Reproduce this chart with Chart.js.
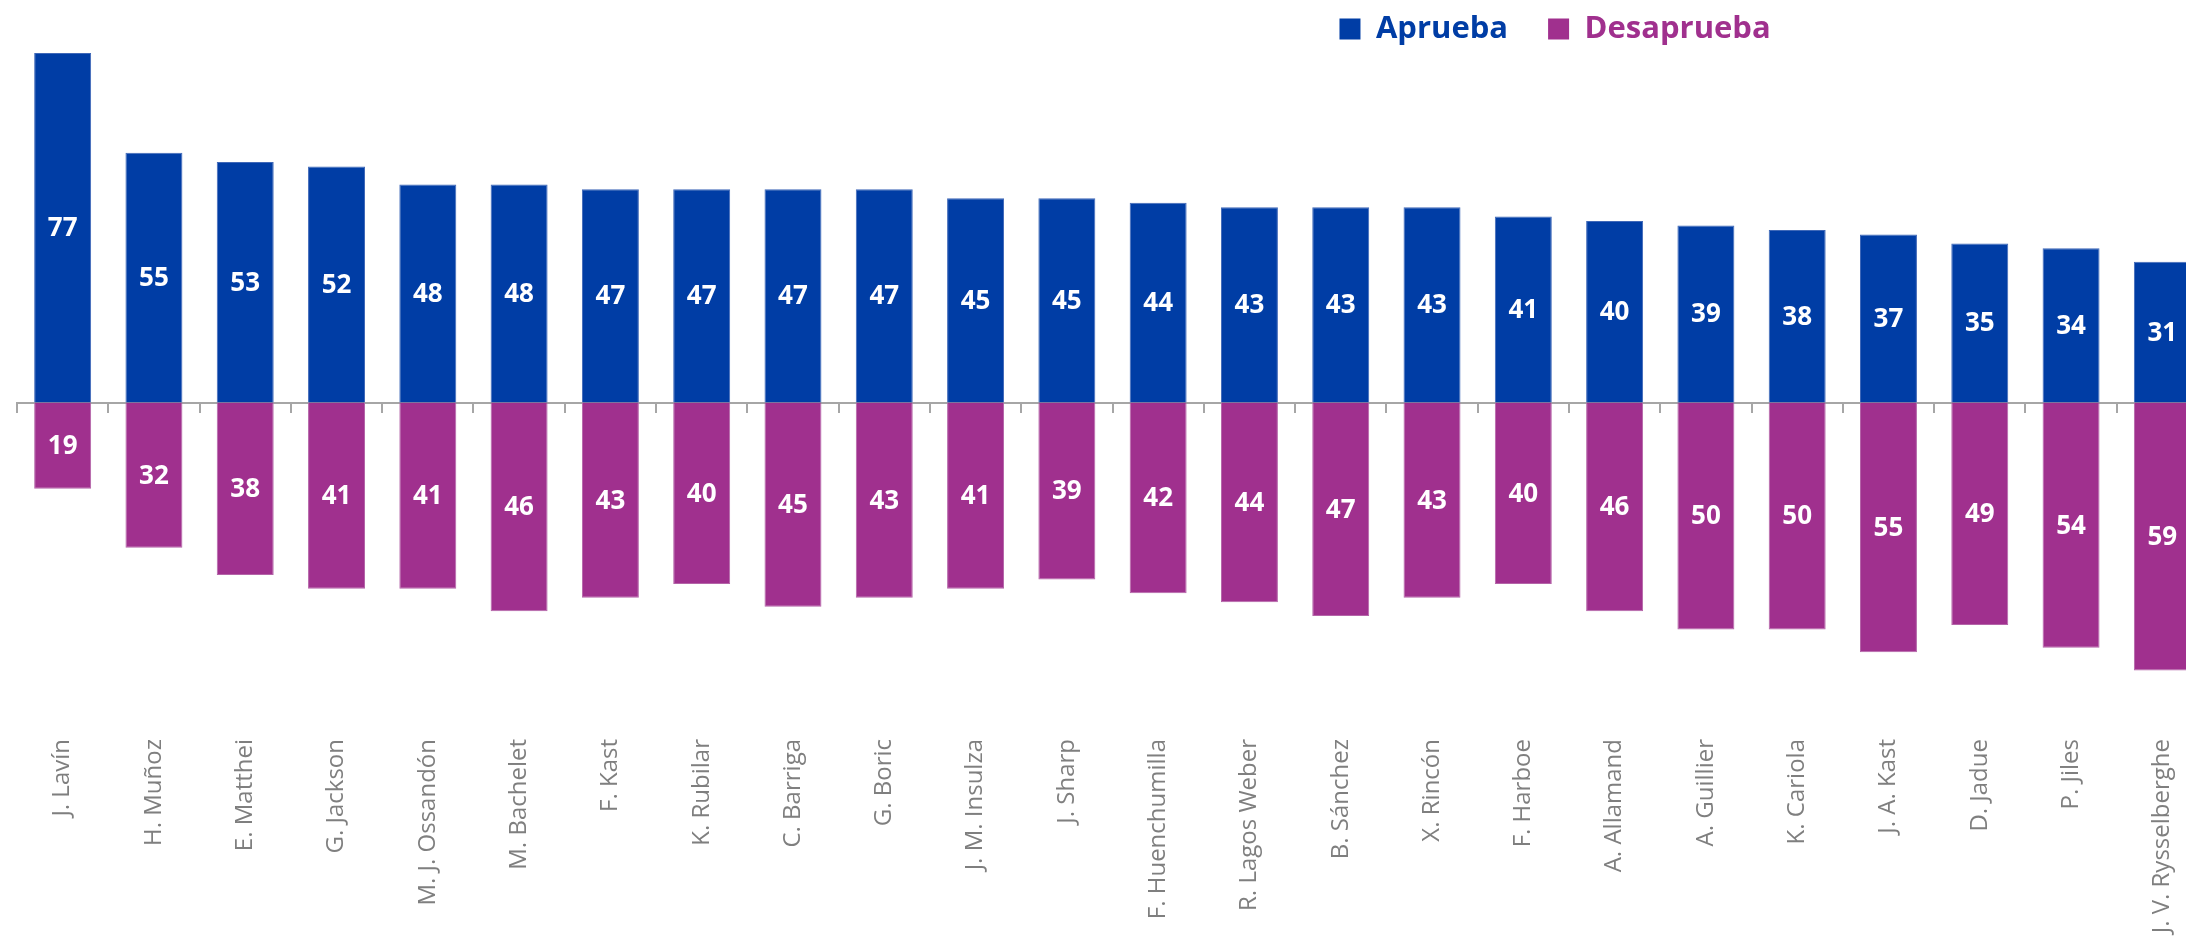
<!DOCTYPE html>
<html><head><meta charset="utf-8">
<script src="https://cdn.jsdelivr.net/npm/chart.js@4/dist/chart.umd.min.js"></script>
<style>
html,body{margin:0;padding:0;background:#fff;overflow:hidden;width:2186px;height:942px}
#wrap{width:2208px;height:942px;position:relative}
</style></head>
<body><div id="wrap"><canvas id="c" width="2208" height="942"></canvas></div>
<script>
const categories = ['J. Lavín','H. Muñoz','E. Matthei','G. Jackson','M. J. Ossandón','M. Bachelet','F. Kast','K. Rubilar','C. Barriga','G. Boric','J. M. Insulza','J. Sharp','F. Huenchumilla','R. Lagos Weber','B. Sánchez','X. Rincón','F. Harboe','A. Allamand','A. Guillier','K. Cariola','J. A. Kast','D. Jadue','P. Jiles','J. V. Rysselberghe'];
const aprueba = [77,55,53,52,48,48,47,47,47,47,45,45,44,43,43,43,41,40,39,38,37,35,34,31];
const desaprueba = [19,32,38,41,41,46,43,40,45,43,41,39,42,44,47,43,40,46,50,50,55,49,54,59];
const seriesNames = ['Aprueba','Desaprueba'];
const seriesColors = ['#003DA5','#A0308E'];
const seriesEdges = ['#3f68b8','#b464a8'];

Chart.defaults.font.family = "'Open Sans', sans-serif";

const valueLabels = {
  id: 'valueLabels',
  afterDatasetsDraw(chart) {
    const ctx = chart.ctx;
    ctx.save();
    ctx.font = "bold 26px 'Open Sans', sans-serif";
    ctx.fillStyle = '#ffffff';
    ctx.textAlign = 'center';
    ctx.textBaseline = 'middle';
    chart.data.datasets.forEach((ds, di) => {
      const meta = chart.getDatasetMeta(di);
      meta.data.forEach((bar, i) => {
        const v = Math.abs(ds.data[i]);
        ctx.fillText(String(v), bar.x, (bar.y + bar.base) / 2 + 1);
      });
    });
    ctx.restore();
  }
};

// legend: compact height in the layout, placed toward the right like the original
const legendPlace = {
  id: 'legendPlace',
  beforeLayout(chart) {
    const lg = chart.legend;
    if (lg && !lg._patchedFit) {
      const origFit = lg.fit.bind(lg);
      lg.fit = function () { origFit(); this.height = 40; this.bottom = this.top + 40; };
      lg._patchedFit = true;
    }
  },
  beforeDraw(chart) {
    const lg = chart.legend;
    if (!lg) return;
    const targetCenter = chart.width * 0.7043;
    const delta = targetCenter - (lg.left + lg.right) / 2;
    lg.left += delta;
    lg.right += delta;
    const pad = lg.options.labels.padding;
    const fs = lg.options.labels.font.size;
    lg.top = 29 - pad - fs / 2;
    lg.bottom = lg.top + 2 * pad + fs + 20;
    lg.height = lg.bottom - lg.top;
  }
};

new Chart(document.getElementById('c'), {
  type: 'bar',
  data: {
    labels: categories,
    datasets: [
      { label: seriesNames[0], data: aprueba, backgroundColor: seriesColors[0], borderColor: seriesEdges[0], borderWidth: 1 },
      { label: seriesNames[1], data: desaprueba.map(v => -v), backgroundColor: seriesColors[1], borderColor: seriesEdges[1], borderWidth: 1 }
    ]
  },
  options: {
    responsive: false,
    animation: false,
    layout: { padding: { left: 17, right: 0, top: 0, bottom: 0 } },
    datasets: { bar: { categoryPercentage: 1, barPercentage: 0.624 } },
    plugins: {
      tooltip: { enabled: false },
      legend: {
        position: 'top',
        align: 'center',
        labels: {
          boxWidth: 21, boxHeight: 21, padding: 40,
          font: { size: 31, weight: 'bold' },
          generateLabels(chart) {
            const items = Chart.defaults.plugins.legend.labels.generateLabels(chart);
            items.forEach((it, i) => { it.fontColor = seriesColors[i]; it.fillStyle = seriesColors[i]; it.strokeStyle = seriesColors[i]; it.lineWidth = 0; });
            return items;
          }
        }
      }
    },
    scales: {
      x: {
        stacked: true,
        offset: true,
        grid: { display: false, offset: true },
        border: { display: false },
        ticks: { autoSkip: false, maxRotation: 90, minRotation: 90, padding: 49, color: '#7F7F7F', font: { size: 24 } },
        afterFit(scale) { scale.height = 260; scale.paddingLeft = 0; scale.paddingRight = 0; }
      },
      x2: {
        type: 'category',
        axis: 'x',
        position: { y: 0 },
        offset: true,
        grid: { display: true, offset: true, drawOnChartArea: false, drawTicks: true, tickLength: 9, color: '#A6A6A6', lineWidth: 2 },
        border: { display: true, color: '#A6A6A6', width: 2 },
        ticks: { display: false },
        afterFit(scale) { scale.paddingLeft = 0; scale.paddingRight = 0; }
      },
      y: {
        stacked: true,
        display: false,
        min: -61.56,
        max: 79.85
      }
    }
  },
  plugins: [valueLabels, legendPlace]
});
</script>
</body></html>
